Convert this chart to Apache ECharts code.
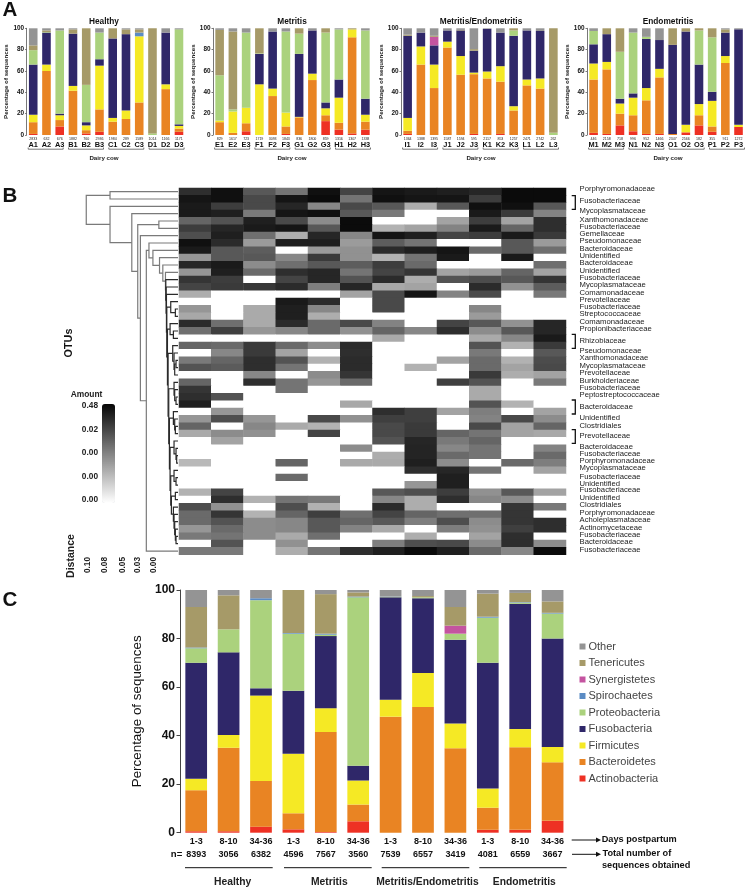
<!doctype html>
<html lang="en">
  <head>
    <meta charset="UTF-8" />
    <title>Uterine microbiota by cow and disease group</title>
    <style>
      html,
      body {
        width: 100%;
        height: 100%;
        margin: 0;
        padding: 0;
        background: #fff;
      }
      #Echart {
        width: 746px;
        height: 889px;
      }
    </style>
  </head>

  <body>
    <div id="Echart"></div>
    <script src="https://cdn.jsdelivr.net/npm/echarts@6/dist/echarts.min.js"></script>
    <script type="text/javascript">
      const taxa = ['Actinobacteria', 'Bacteroidetes', 'Firmicutes', 'Fusobacteria', 'Proteobacteria', 'Spirochaetes', 'Synergistetes', 'Tenericutes', 'Other']

      // panel A, one row per cow, columns in the order of taxa
      const healthyCows = ['A1', 'A2', 'A3', 'B1', 'B2', 'B3', 'C1', 'C2', 'C3', 'D1', 'D2', 'D3']
      const healthyCounts = [2833, 632, 676, 1882, 760, 2936, 1984, 289, 1589, 1014, 1166, 1171]
      const healthyBars = [
        [1, 11, 7, 47, 13.5, 0, 0, 4.5, 16],
        [0, 60, 6, 30, 0.5, 0, 0, 1.5, 2],
        [8, 6, 4.5, 1.5, 78, 0, 0, 0, 2],
        [0, 41.5, 4.5, 49, 0, 0, 0, 4, 1],
        [1.5, 3, 4.5, 3, 35, 0, 0, 53, 0],
        [3, 21, 41, 6, 25, 0, 0, 0, 4],
        [0, 12.5, 3.5, 74.5, 0, 0, 0, 9.5, 0],
        [0, 15, 8, 71.5, 0, 0, 0, 4.5, 1],
        [0, 30.5, 62, 0, 0, 3.5, 0, 3, 1],
        [0, 0, 0, 0, 1.5, 0, 0, 98.5, 0],
        [0, 43, 4.5, 48.5, 0, 0, 0, 0, 4],
        [3, 3, 2.5, 1.5, 89, 0, 0, 0, 1],
      ]
      const metritisCows = ['E1', 'E2', 'E3', 'F1', 'F2', 'F3', 'G1', 'G2', 'G3', 'H1', 'H2', 'H3']
      const metritisCounts = [829, 1617, 723, 1719, 3093, 1843, 836, 1800, 859, 1316, 1307, 1338]
      const metritisBars = [
        [0, 12, 1.5, 0, 42.5, 0, 0, 42.5, 1.5],
        [0, 2, 20, 0, 2, 0, 0, 73, 3],
        [3.5, 7.5, 14.5, 0, 70.5, 0, 0, 0, 4],
        [0, 0, 47.5, 28.5, 0.5, 0, 0, 23.5, 0],
        [0, 36.5, 7, 53.5, 0, 0, 0, 0, 3],
        [1, 7, 13, 0, 76, 0, 0, 0, 3],
        [0, 16.5, 0.5, 59, 19, 0, 0, 5, 0],
        [0, 51.5, 6, 40.5, 0, 0, 0, 0, 2],
        [13, 5.5, 6.5, 5.5, 65.5, 0, 0, 4, 0],
        [5, 6.5, 23.5, 17, 47, 0, 0, 0, 1],
        [1.5, 90, 7.5, 0, 0, 0, 0, 1, 0],
        [5, 7.5, 6.5, 15, 64, 0, 0, 0, 2],
      ]
      const mixedCows = ['I1', 'I2', 'I3', 'J1', 'J2', 'J3', 'K1', 'K2', 'K3', 'L1', 'L2', 'L3']
      const mixedCounts = [1364, 1388, 1395, 1587, 1594, 595, 2117, 853, 1257, 2471, 2742, 262]
      const mixedBars = [
        [1, 3, 12, 77, 0, 0, 0, 1, 6],
        [0, 66, 17, 13, 0, 0, 0, 0, 4],
        [0, 44, 22, 18, 0, 0, 8, 1, 7],
        [0, 82, 5.5, 10.5, 0, 0, 0, 0, 2],
        [0, 56.5, 17.5, 24, 0, 0, 0, 0.5, 1.5],
        [1, 56, 1.5, 20.5, 0, 0, 0, 1.5, 19.5],
        [0, 53, 6.5, 40, 0, 0, 0, 0, 0.5],
        [1, 49, 14.5, 31.5, 0, 0, 0, 0, 4],
        [0, 23, 4, 66, 5, 0, 0, 2, 0],
        [0, 46.5, 5.5, 46, 0, 0, 0, 0, 2],
        [0, 43.5, 9.5, 44.5, 0, 0, 0, 0, 2.5],
        [0, 0, 0, 0, 2, 0, 0, 98, 0],
      ]
      const endoCows = ['M1', 'M2', 'M3', 'N1', 'N2', 'N3', 'O1', 'O2', 'O3', 'P1', 'P2', 'P3']
      const endoCounts = [446, 2158, 718, 996, 952, 1466, 2347, 2566, 182, 355, 911, 1272]
      const endoBars = [
        [2, 50, 15, 18, 12.5, 0, 0, 0, 2.5],
        [1, 60.5, 7, 26, 0, 0, 0, 5.5, 0],
        [9, 11, 9.5, 4.5, 44, 0, 0, 22, 0],
        [3.5, 15, 16.5, 4, 57, 0, 0, 0, 4],
        [1, 31.5, 11.5, 46, 2, 0, 0, 0, 8],
        [1, 53, 8, 27, 0, 0, 0, 0, 11],
        [0, 1, 0, 83.5, 0, 0, 0, 15.5, 0],
        [2.5, 0, 7, 87.5, 0, 0, 0, 3, 0],
        [9, 9.5, 10.5, 37, 32, 0, 0, 2, 0],
        [3, 5, 24, 8.5, 51, 0, 0, 8.5, 0],
        [0, 67.5, 6.5, 22, 0, 0, 0, 3, 1],
        [7.5, 0, 2, 89.5, 0, 0, 0, 0, 1],
      ]

      // panel C, one row per time point
      const dayLabels = ['1-3', '8-10', '34-36', '1-3', '8-10', '34-36', '1-3', '8-10', '34-36', '1-3', '8-10', '34-36']
      const dayCounts = [8393, 3056, 6382, 4596, 7567, 3560, 7539, 6557, 3419, 4081, 6559, 3667]
      const dayBars = [
        [0.6, 16.9, 4.7, 47.8, 6, 0.3, 0, 16.7, 7],
        [0.6, 34.4, 5.3, 34, 9.5, 0, 0, 14, 2.2],
        [2.5, 18.8, 35.2, 3, 36.3, 0.8, 0, 0, 3.4],
        [1.4, 6.6, 24.5, 26, 23.5, 0.3, 0, 17.7, 0],
        [0.3, 41.2, 9.8, 29.7, 0.6, 0.4, 0, 16.3, 1.7],
        [4.7, 6.9, 9.9, 6.1, 69.4, 0.3, 0, 1.7, 1],
        [0, 47.8, 7, 42.2, 0.2, 0.1, 0, 0, 2.7],
        [0, 51.8, 14, 30.8, 0.4, 0, 0, 0.5, 2.5],
        [0, 34.8, 10.2, 34.5, 2.5, 0, 3.3, 7.7, 7],
        [1.2, 9.1, 7.9, 51.8, 18.6, 0.4, 0, 9.5, 1.5],
        [1.2, 34, 7.5, 51.6, 0.5, 0.2, 0, 3.8, 1.2],
        [4.9, 24.1, 6.3, 44.7, 10.3, 0.3, 0, 4.7, 4.7],
      ]

      // panel B, darkness, 0 = white, 100 = black
      const otuRows = [
        [84, 96, 67, 56, 96, 75, 94, 92, 90, 87, 98, 98],
        [94, 96, 73, 94, 98, 56, 96, 94, 94, 78, 98, 98],
        [92, 78, 73, 87, 48, 73, 67, 33, 67, 96, 96, 67],
        [92, 90, 54, 94, 96, 67, 54, 0, 0, 92, 79, 50],
        [62, 69, 90, 73, 46, 98, 0, 0, 37, 78, 37, 84],
        [78, 87, 92, 94, 67, 98, 31, 37, 50, 92, 62, 84],
        [71, 90, 58, 33, 87, 48, 94, 90, 75, 78, 92, 79],
        [96, 85, 40, 90, 90, 40, 65, 56, 0, 0, 67, 40],
        [92, 67, 65, 0, 40, 44, 85, 90, 94, 60, 67, 58],
        [42, 67, 67, 48, 79, 44, 31, 56, 92, 0, 92, 0],
        [87, 92, 46, 58, 67, 65, 78, 60, 0, 0, 0, 58],
        [42, 90, 60, 84, 87, 56, 75, 81, 37, 40, 62, 37],
        [81, 78, 0, 75, 87, 69, 85, 33, 69, 72, 67, 81],
        [75, 79, 80, 85, 52, 87, 35, 37, 0, 85, 44, 65],
        [33, 0, 0, 0, 0, 37, 73, 94, 50, 72, 0, 54],
        [0, 0, 0, 92, 85, 0, 73, 0, 0, 0, 0, 0],
        [42, 0, 34, 90, 48, 0, 73, 0, 0, 48, 0, 0],
        [35, 0, 34, 90, 33, 0, 0, 0, 0, 40, 0, 0],
        [85, 58, 34, 85, 60, 73, 50, 0, 75, 67, 44, 87],
        [58, 77, 42, 48, 60, 44, 62, 48, 84, 46, 67, 87],
        [0, 0, 0, 0, 0, 0, 34, 0, 0, 34, 48, 92],
        [62, 60, 79, 60, 46, 85, 0, 0, 0, 69, 31, 79],
        [0, 48, 79, 37, 0, 84, 0, 0, 0, 54, 0, 67],
        [54, 62, 84, 69, 31, 85, 0, 0, 37, 60, 31, 72],
        [69, 66, 84, 56, 0, 85, 0, 31, 0, 60, 37, 73],
        [0, 0, 48, 0, 46, 81, 0, 0, 0, 79, 33, 37],
        [62, 0, 84, 56, 42, 60, 0, 0, 77, 69, 0, 54],
        [81, 0, 0, 56, 0, 0, 0, 0, 0, 34, 0, 0],
        [84, 69, 0, 0, 0, 0, 0, 0, 0, 34, 0, 0],
        [90, 0, 0, 0, 0, 35, 0, 0, 0, 69, 31, 0],
        [0, 42, 0, 0, 0, 0, 84, 77, 37, 52, 0, 37],
        [42, 71, 42, 0, 73, 44, 77, 77, 0, 50, 73, 46],
        [62, 0, 48, 34, 31, 0, 73, 79, 0, 73, 37, 62],
        [34, 46, 44, 0, 75, 0, 73, 79, 62, 56, 37, 35],
        [0, 37, 0, 0, 0, 0, 69, 87, 54, 62, 0, 0],
        [0, 0, 0, 0, 0, 46, 0, 88, 48, 56, 0, 50],
        [0, 0, 0, 0, 0, 0, 33, 88, 60, 56, 0, 60],
        [28, 0, 0, 62, 0, 34, 34, 90, 46, 0, 60, 52],
        [0, 0, 0, 0, 0, 0, 0, 84, 87, 56, 0, 37],
        [0, 0, 0, 60, 0, 0, 0, 0, 90, 0, 0, 0],
        [0, 0, 0, 0, 0, 0, 0, 42, 90, 0, 0, 0],
        [31, 75, 0, 0, 0, 0, 67, 71, 78, 44, 67, 37],
        [0, 84, 31, 56, 54, 0, 48, 33, 84, 48, 46, 0],
        [71, 44, 0, 71, 31, 0, 85, 33, 0, 0, 81, 54],
        [60, 81, 31, 62, 77, 58, 75, 62, 58, 58, 81, 0],
        [60, 69, 46, 48, 67, 62, 67, 52, 71, 46, 81, 84],
        [42, 60, 46, 48, 67, 50, 34, 0, 52, 44, 77, 84],
        [54, 56, 46, 34, 58, 0, 0, 33, 0, 37, 84, 0],
        [0, 69, 0, 44, 0, 0, 52, 71, 73, 46, 84, 46],
        [54, 54, 0, 33, 56, 84, 90, 98, 90, 60, 48, 98],
      ]
      const otuLabels = [
        'Porphyromonadaceae', 'Fusobacteriaceae', 'Mycoplasmataceae', 'Xanthomonadaceae', 'Fusobacteriaceae', 'Gemellaceae',
        'Pseudomonaceae', 'Bacteroidaceae', 'Unidentified', 'Bacteroidaceae', 'Unidentified', 'Fusobacteriaceae',
        'Mycoplasmataceae', 'Comamonadaceae', 'Prevotellaceae', 'Fusobacteriaceae', 'Streptococcaceae', 'Comamonadaceae',
        'Propionibacteriaceae', 'Rhizobiaceae', 'Pseudomonaceae', 'Xanthomonadaceae', 'Mycoplasmataceae', 'Prevotellaceae',
        'Burkholderiaceae', 'Fusobacteriaceae', 'Peptostreptococcaceae', 'Bacteroidaceae', 'Unidentified', 'Clostridiales',
        'Prevotellaceae', 'Bacteroidaceae', 'Fusobacteriaceae', 'Porphyromonadaceae', 'Mycoplasmataceae', 'Fusobacteriaceae',
        'Unidentified', 'Fusobacteriaceae', 'Unidentified', 'Clostridiales', 'Porphyromonadaceae', 'Acholeplasmataceae',
        'Actinomycetaceae', 'Fusobacteriaceae', 'Bacteroidaceae', 'Fusobacteriaceae',
      ]
      const amountLabels = ['0.48', '0.02', '0.00', '0.00', '0.00']
      const distanceLabels = ['0.10', '0.08', '0.05', '0.03', '0.00']

      // dendrogram: [distance, child, child], a plain number is a row of otuRows
      const lowerTree = [0.0185, 12, [0.018, 13, [0.0175, 14, [0.017, [0.011, 15, [0.004, 16, 17]],
        [0.016, [0.012, 18, [0.007, 19, 20]],
          [0.015, [0.008, 21, [0.006, 22, [0.005, [0.003, 23, 24], 25]]],
            [0.014, [0.006, 26, [0.005, 27, [0.003, 28, 29]]],
              [0.013, [0.007, 30, [0.005, 31, [0.004, 32, 33]]],
                [0.012, [0.006, 34, [0.003, 35, [0.002, 36, 37]]],
                  [0.011, [0.006, 38, [0.003, 39, 40]],
                    [0.01, [0.004, 41, 42],
                      [0.007, 43, [0.006, 44, [0.005, 45, [0.004, 46, [0.003, 47, 48]]]]]]]]]]]]]]]]
      const upperTree = [0.139, [0.103, 0, 1],
        [0.103, 2, [0.07, 3, [0.061, [0.029, 4, 5],
          [0.057, 6, [0.048, [0.044, 7, [0.038, 8, [0.028, 9, [0.023, 10, [0.019, 11, lowerTree]]]]], 49]]]]]]

      const colors = ['#ee3124', '#e98423', '#f5e925', '#2f2769', '#abd27d', '#5b8cc4', '#c454a0', '#a69a68', '#949494']
      const font = '"Liberation Sans", Arial, sans-serif'

      const panelsA = [
        { title: 'Healthy', cows: healthyCows, counts: healthyCounts, bars: healthyBars, left: 26.6, centre: 104 },
        { title: 'Metritis', cows: metritisCows, counts: metritisCounts, bars: metritisBars, left: 213, centre: 292 },
        { title: 'Metritis/Endometritis', cows: mixedCows, counts: mixedCounts, bars: mixedBars, left: 401, centre: 481 },
        { title: 'Endometritis', cows: endoCows, counts: endoCounts, bars: endoBars, left: 587, centre: 668 },
      ]

      const grid = [],
        xAxis = [],
        yAxis = [],
        series = [],
        notes = []

      function txt(text, x, y, size, opts) {
        opts = opts || {}
        notes.push({
          type: 'text',
          silent: true,
          x: x,
          y: y,
          rotation: opts.rotate ? Math.PI / 2 : 0,
          style: {
            text: text,
            fill: opts.color || '#111',
            font: (opts.normal ? '' : 'bold ') + size + 'px ' + font,
            textAlign: opts.align || 'center',
            textVerticalAlign: 'middle',
          },
        })
      }
      function poly(points, color, width) {
        notes.push({
          type: 'polyline',
          silent: true,
          shape: { points: points },
          style: { stroke: color, lineWidth: width, fill: 'none' },
        })
      }
      function arrow(x0, x1, y) {
        poly([[x0, y], [x1 - 4, y]], '#111', 1)
        notes.push({
          type: 'polygon',
          silent: true,
          shape: { points: [[x1 - 5, y - 2.5], [x1, y], [x1 - 5, y + 2.5]] },
          style: { fill: '#111' },
        })
      }

      function stackedBars(rows, stack, axisIndex, barWidth) {
        taxa.forEach((name, i) => {
          series.push({
            name: name,
            type: 'bar',
            stack: stack,
            xAxisIndex: axisIndex,
            yAxisIndex: axisIndex,
            barWidth: barWidth,
            silent: true,
            itemStyle: { color: colors[i] },
            data: rows.map((row) => row[i]),
          })
        })
      }

      // panel A
      panelsA.forEach((p, idx) => {
        grid.push({ left: p.left, top: 28.3, width: 159, height: 106.7 })
        xAxis.push({
          gridIndex: idx,
          type: 'category',
          data: p.cows.map((c, i) => p.counts[i] + '|' + c),
          axisLine: { show: false },
          axisTick: { show: false },
          axisLabel: {
            interval: 0,
            margin: 1,
            formatter: (v) => `{n|${v.split('|')[0]}}\n{c|${v.split('|')[1]}}`,
            rich: {
              n: { fontFamily: font, fontSize: 3.6, lineHeight: 5, color: '#222' },
              c: { fontFamily: font, fontSize: 7.4, fontWeight: 'bold', lineHeight: 8, color: '#111' },
            },
          },
        })
        yAxis.push({
          gridIndex: idx,
          type: 'value',
          min: 0,
          max: 100,
          interval: 20,
          name: 'Percentage of sequences',
          nameLocation: 'middle',
          nameRotate: 90,
          nameGap: 12,
          nameTextStyle: { fontFamily: font, fontSize: 6.2, fontWeight: 'bold', color: '#222' },
          axisLine: { show: true, lineStyle: { color: '#555', width: 0.8 } },
          axisTick: { show: true, length: 1.5, lineStyle: { color: '#555', width: 0.8 } },
          axisLabel: { margin: 2.5, fontFamily: font, fontSize: 6.4, fontWeight: 'bold', color: '#111' },
          splitLine: { show: false },
        })
        stackedBars(p.bars, 'cow' + idx, idx, 8.6)
        txt(p.title, p.centre, 21.5, 8.3)
        txt('Dairy cow', p.centre, 158, 6.2, { color: '#222' })
        for (let g = 0; g < 4; g++) {
          const x0 = p.left + 1.6 + g * 40.3
          poly([[x0, 147.5], [x0, 149.2], [x0 + 35, 149.2], [x0 + 35, 147.5]], '#555', 0.8)
        }
      })

      // panel B dendrogram, drawn on its own axes next to the heatmap
      const treeIndex = grid.length
      grid.push({ left: 85.6, top: 188, width: 92.4, height: 366.7 })
      xAxis.push({ gridIndex: treeIndex, type: 'value', min: 0, max: 0.14, inverse: true, show: false })
      yAxis.push({ gridIndex: treeIndex, type: 'value', min: 0, max: otuRows.length, inverse: true, show: false })
      const treeGrey = [],
        treeDark = []
      function walkTree(node) {
        if (typeof node === 'number') return { d: 0, y: node + 0.5 }
        const a = walkTree(node[1]),
          b = walkTree(node[2])
        const item = {
          coords: [[a.d, a.y], [node[0], a.y], [node[0], b.y], [b.d, b.y]],
        }
        ;(node[0] < 0.019 ? treeDark : treeGrey).push(item)
        return { d: node[0], y: (a.y + b.y) / 2 }
      }
      const rootPos = walkTree(upperTree)
      ;[[treeGrey, '#7a7a7a'], [treeDark, '#2a2a2a']].forEach(([items, color]) => {
        series.push({
          type: 'lines',
          coordinateSystem: 'cartesian2d',
          xAxisIndex: treeIndex,
          yAxisIndex: treeIndex,
          polyline: true,
          silent: true,
          lineStyle: { color: color, width: 1.2, opacity: 1, curveness: 0 },
          data: items,
        })
      })

      // panel B heatmap
      const heatIndex = grid.length
      grid.push({ left: 179, top: 188, width: 387, height: 366.7 })
      xAxis.push({ gridIndex: heatIndex, type: 'category', data: otuRows[0].map((v, i) => i), show: false })
      yAxis.push({ gridIndex: heatIndex, type: 'category', data: otuRows.map((v, i) => i), inverse: true, show: false })
      const heatSeries = series.length
      const heatData = []
      otuRows.forEach((row, r) => row.forEach((v, c) => heatData.push([c, r, v])))
      series.push({
        type: 'heatmap',
        xAxisIndex: heatIndex,
        yAxisIndex: heatIndex,
        silent: true,
        itemStyle: { borderWidth: 0 },
        data: heatData,
      })

      // panel C
      const dayIndex = grid.length
      grid.push({ left: 180, top: 590, width: 388.8, height: 242.7 })
      xAxis.push({
        gridIndex: dayIndex,
        type: 'category',
        data: dayLabels.map((d, i) => d + '|' + dayCounts[i]),
        axisLine: { show: false },
        axisTick: { show: false },
        axisLabel: {
          interval: 0,
          margin: 2,
          lineHeight: 13.5,
          fontFamily: font,
          fontSize: 9,
          fontWeight: 'bold',
          color: '#111',
          formatter: (v) => v.split('|').join('\n'),
        },
      })
      yAxis.push({
        gridIndex: dayIndex,
        type: 'value',
        min: 0,
        max: 100,
        interval: 20,
        name: 'Percentage of sequences',
        nameLocation: 'middle',
        nameRotate: 90,
        nameGap: 31,
        nameTextStyle: { fontFamily: font, fontSize: 13.4, color: '#111' },
        axisLine: { show: true, lineStyle: { color: '#444', width: 1 } },
        axisTick: { show: true, length: 3.5, lineStyle: { color: '#444', width: 1 } },
        axisLabel: { margin: 5, fontFamily: font, fontSize: 12, fontWeight: 'bold', color: '#111' },
        splitLine: { show: false },
      })
      stackedBars(dayBars, 'day', dayIndex, 21.7)

      // panel B row labels and brackets
      const otuLabelY = [189, 201, 211.3, 220, 227.3, 234, 241.3, 248.7, 256, 263, 270.7, 278, 285.3, 292.7, 299.7, 307, 314.3, 321.7, 329, 341, 350.7, 358, 366, 373.3, 380.7, 388, 395.3, 407, 418.3, 425.7, 436, 446.7, 454, 461, 468.3, 476.7, 484, 490.3, 498, 505.3, 513.3, 520.3, 527.7, 535, 542.3, 549.7]
      otuLabels.forEach((label, i) => txt(label, 579.5, otuLabelY[i], 7.7, { normal: true, align: 'left', color: '#222' }))
      ;[[195.7, 209.3], [334.3, 348.3], [400, 414], [429.7, 443.3]].forEach(([y0, y1]) => {
        poly([[571.7, y0], [575.3, y0], [575.3, y1], [571.7, y1]], '#111', 1.3)
      })
      txt('OTUs', 69, 343, 10.8, { rotate: true })
      txt('Amount', 86.5, 394.5, 8.4, { color: '#222' })
      amountLabels.forEach((label, i) => txt(label, 98, [406, 429.5, 452.7, 477, 500][i], 8.3, { align: 'right', color: '#222' }))
      txt('Distance', 71.5, 556, 10.5, { rotate: true, color: '#222' })
      distanceLabels.forEach((label, i) => txt(label, [88, 105, 122.7, 138, 154][i], 565, 8.3, { rotate: true, color: '#222' }))

      // panel letters
      txt('A', 10, 10, 20.5)
      txt('B', 10, 196, 20.5)
      txt('C', 10, 600, 20.5)

      // panel C annotations
      txt('n=', 176.5, 854, 9.6, { color: '#111' })
      ;[[185, 272.7], [284, 371.7], [381.7, 469.3], [479.3, 566.7]].forEach(([x0, x1]) => {
        poly([[x0, 867.7], [x1, 867.7]], '#111', 1)
      })
      txt('Healthy', 232.7, 881.7, 10.3, { color: '#222' })
      txt('Metritis', 329.3, 881.7, 10.3, { color: '#222' })
      txt('Metritis/Endometritis', 427.5, 881.7, 10.3, { color: '#222' })
      txt('Endometritis', 524.3, 881.7, 10.3, { color: '#222' })
      arrow(571.7, 601, 840)
      arrow(572, 601, 854.3)
      txt('Days postpartum', 601.7, 839, 9.2, { align: 'left' })
      txt('Total number of', 602.5, 853.3, 9.2, { align: 'left' })
      txt('sequences obtained', 602, 865.3, 9.2, { align: 'left' })

      const chart = echarts.init(document.getElementById('Echart'), null, { renderer: 'canvas' })
      chart.setOption({
        animation: false,
        backgroundColor: '#fff',
        grid: grid,
        xAxis: xAxis,
        yAxis: yAxis,
        series: series,
        graphic: { elements: notes },
        legend: {
          orient: 'vertical',
          left: 579.5,
          top: 641,
          padding: 0,
          itemWidth: 6,
          itemHeight: 6,
          itemGap: 5.5,
          selectedMode: false,
          icon: 'rect',
          textStyle: { fontFamily: font, fontSize: 11, color: '#444', padding: [0, 0, 0, -2] },
          data: taxa.slice().reverse(),
        },
        visualMap: {
          type: 'continuous',
          seriesIndex: heatSeries,
          dimension: 2,
          min: 0,
          max: 100,
          left: 102,
          top: 404,
          padding: 0,
          itemWidth: 13,
          itemHeight: 99,
          calculable: false,
          hoverLink: false,
          text: null,
          inRange: { color: ['#ffffff', '#060606'] },
        },
      })
    </script>
  </body>
</html>
